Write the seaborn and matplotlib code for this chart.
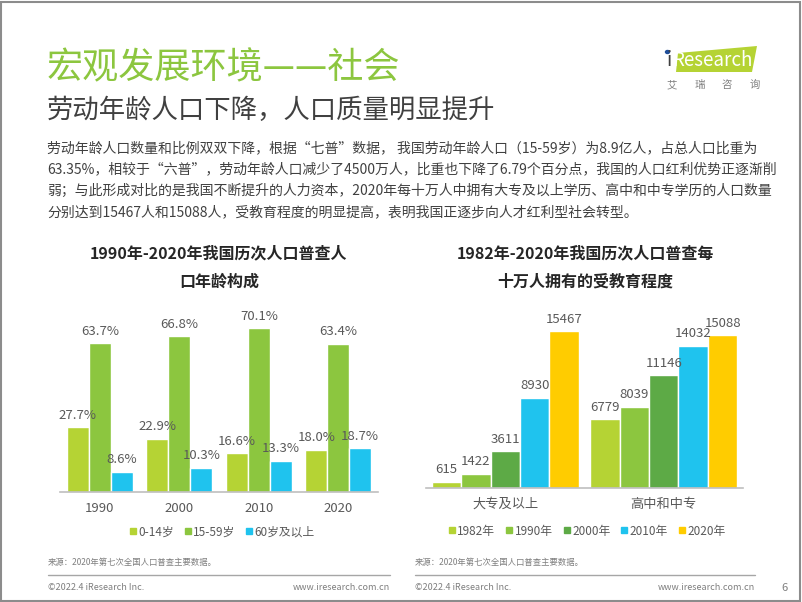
import matplotlib
matplotlib.use("Agg")
import matplotlib.pyplot as plt
import seaborn as sns
import pandas as pd
from matplotlib.lines import Line2D
from matplotlib.patches import Polygon, Rectangle

# ---------------- data ----------------
years = ["1990", "2000", "2010", "2020"]
age_groups = ["0-14岁", "15-59岁", "60岁及以上"]
age_0_14 = [27.7, 22.9, 16.6, 18.0]
age_15_59 = [63.7, 66.8, 70.1, 63.4]
age_60_plus = [8.6, 10.3, 13.3, 18.7]

edu_levels = ["大专及以上", "高中和中专"]
census_years = ["1982年", "1990年", "2000年", "2010年", "2020年"]
edu_college = [615, 1422, 3611, 8930, 15467]
edu_highschool = [6779, 8039, 11146, 14032, 15088]

age_colors = ["#B5D334", "#8CC63F", "#1FC3EE"]
edu_colors = ["#B5D334", "#8CC63F", "#5DAA46", "#1FC3EE", "#FFCC00"]

title_main = "宏观发展环境——社会"
subtitle = "劳动年龄人口下降，人口质量明显提升"
para_lines = [
    "劳动年龄人口数量和比例双双下降，根据“七普”数据， 我国劳动年龄人口（15-59岁）为8.9亿人，占总人口比重为",
    "63.35%，相较于“六普”，劳动年龄人口减少了4500万人，比重也下降了6.79个百分点，我国的人口红利优势正逐渐削",
    "弱；与此形成对比的是我国不断提升的人力资本，2020年每十万人中拥有大专及以上学历、高中和中专学历的人口数量",
    "分别达到15467人和15088人，受教育程度的明显提高，表明我国正逐步向人才红利型社会转型。",
]
chart1_title = ["1990年-2020年我国历次人口普查人", "口年龄构成"]
chart2_title = ["1982年-2020年我国历次人口普查每", "十万人拥有的受教育程度"]
source_text = "来源：2020年第七次全国人口普查主要数据。"

# ---------------- style ----------------
sns.set_style("white")
plt.rcParams["font.family"] = ["Noto Sans CJK SC", "DejaVu Sans"]

W, H = 802, 602
fig = plt.figure(figsize=(W / 100, H / 100), dpi=100)
fig.patch.set_facecolor("white")


def fx(px):
    return px / W


def fy(py):
    return 1 - py / H


TXT = "#595959"

# border
fig.patches.append(Rectangle((0.001, 0.001), 0.997, 0.996, transform=fig.transFigure,
                             fill=False, edgecolor="#8c8c8c", lw=1.5))

# header
fig.text(fx(47), fy(68), title_main, fontsize=26, color="#8CC63F", va="center", ha="left")
fig.text(fx(47), fy(110), subtitle, fontsize=19, color="#404040", va="center", ha="left")
for i, line in enumerate(para_lines):
    fig.text(fx(47), fy(148 + i * 21.5), line, fontsize=10, color="#404040", va="center", ha="left")

# logo
fig.patches.append(Polygon([(fx(678), fy(53)), (fx(757), fy(46)), (fx(752), fy(72)), (fx(676), fy(72))],
                           closed=True, transform=fig.transFigure, facecolor="#B5D334", edgecolor="none"))
fig.text(fx(666), fy(61), "i", fontsize=13.5, color="#404040", va="center", ha="left")
fig.patches.append(plt.Circle((fx(667.5), fy(52)), 0.0025, transform=fig.transFigure, color="#1F4E9A"))
fig.text(fx(672), fy(61), "Research", fontsize=13.5, color="white", va="center", ha="left")
for i, ch in enumerate("艾瑞咨询"):
    fig.text(fx(672 + i * 27.5), fy(85), ch, fontsize=7.5, color="#7f7f7f", va="center", ha="center")

# chart titles
for i, t in enumerate(chart1_title):
    fig.text(fx(219), fy(253 + i * 29), t, fontsize=11.5, fontweight="bold", color="#262626",
             ha="center", va="center")
for i, t in enumerate(chart2_title):
    fig.text(fx(585), fy(253 + i * 29), t, fontsize=11.5, fontweight="bold", color="#262626",
             ha="center", va="center")

# ---------------- left chart ----------------
df1 = pd.DataFrame({
    "year": years * 3,
    "group": [g for g in age_groups for _ in years],
    "value": age_0_14 + age_15_59 + age_60_plus,
})
ax1_bottom = 492
ax1_h = 80 * 2.334
ax1 = fig.add_axes([fx(60), 1 - ax1_bottom / H, 318 / W, ax1_h / H])
sns.barplot(data=df1, x="year", y="value", hue="group", order=years, hue_order=age_groups,
            palette=age_colors, width=0.83, saturation=1, ax=ax1, legend=False)
ax1.set_ylim(0, 80)
ax1.set_xlim(-0.5, 3.5)
for c in ax1.containers:
    ax1.bar_label(c, fmt="%.1f%%", padding=4, fontsize=9.5, color=TXT)

# ---------------- right chart ----------------
df2 = pd.DataFrame({
    "level": edu_levels * 5,
    "year": [y for y in census_years for _ in edu_levels],
    "value": [v for pair in zip(edu_college, edu_highschool) for v in pair],
})
ax2_bottom = 488
ax2_h = 18000 * 0.01013
ax2 = fig.add_axes([fx(426), 1 - ax2_bottom / H, 317 / W, ax2_h / H])
sns.barplot(data=df2, x="level", y="value", hue="year", order=edu_levels, hue_order=census_years,
            palette=edu_colors, width=0.93, saturation=1, ax=ax2, legend=False)
ax2.set_ylim(0, 18000)
ax2.set_xlim(-0.5, 1.5)
for c in ax2.containers:
    ax2.bar_label(c, fmt="%d", padding=4, fontsize=9.5, color=TXT)

for ax in (ax1, ax2):
    ax.set_facecolor("none")
    for s in ["left", "right", "top"]:
        ax.spines[s].set_visible(False)
    ax.spines["bottom"].set_color("#bfbfbf")
    ax.spines["bottom"].set_linewidth(1.2)
    ax.set_yticks([])
    ax.set_xlabel("")
    ax.set_ylabel("")
    ax.tick_params(axis="x", length=0, pad=7, labelsize=9.5, labelcolor=TXT)

# legends
h1 = [Line2D([], [], marker="s", linestyle="", markersize=4.5, color=c) for c in age_colors]
fig.legend(h1, age_groups, loc="center", bbox_to_anchor=(fx(222), fy(532)), ncol=3, frameon=False,
           fontsize=8.5, handlelength=0.6, handletextpad=0.15, columnspacing=0.9, labelcolor=TXT)
h2 = [Line2D([], [], marker="s", linestyle="", markersize=4.5, color=c) for c in edu_colors]
fig.legend(h2, census_years, loc="center", bbox_to_anchor=(fx(587), fy(531)), ncol=5, frameon=False,
           fontsize=8.5, handlelength=0.6, handletextpad=0.15, columnspacing=0.9, labelcolor=TXT)

# footer
FG = "#7f7f7f"
for x0, x1 in [(48, 390), (415, 755)]:
    fig.text(fx(x0), fy(563), source_text, fontsize=6, color=FG, ha="left", va="center")
    fig.add_artist(Line2D([fx(x0), fx(x1)], [fy(575), fy(575)], color="#a6a6a6", lw=1,
                          transform=fig.transFigure))
    fig.text(fx(x0), fy(588), "©2022.4 iResearch Inc.", fontsize=6.5, color=FG, ha="left", va="center")
    fig.text(fx(x1), fy(588), "www.iresearch.com.cn", fontsize=6.5, color=FG, ha="right", va="center")
fig.text(fx(785), fy(588), "6", fontsize=8, color=FG, ha="center", va="center")

fig.savefig("out.png", dpi=100, facecolor="white")
